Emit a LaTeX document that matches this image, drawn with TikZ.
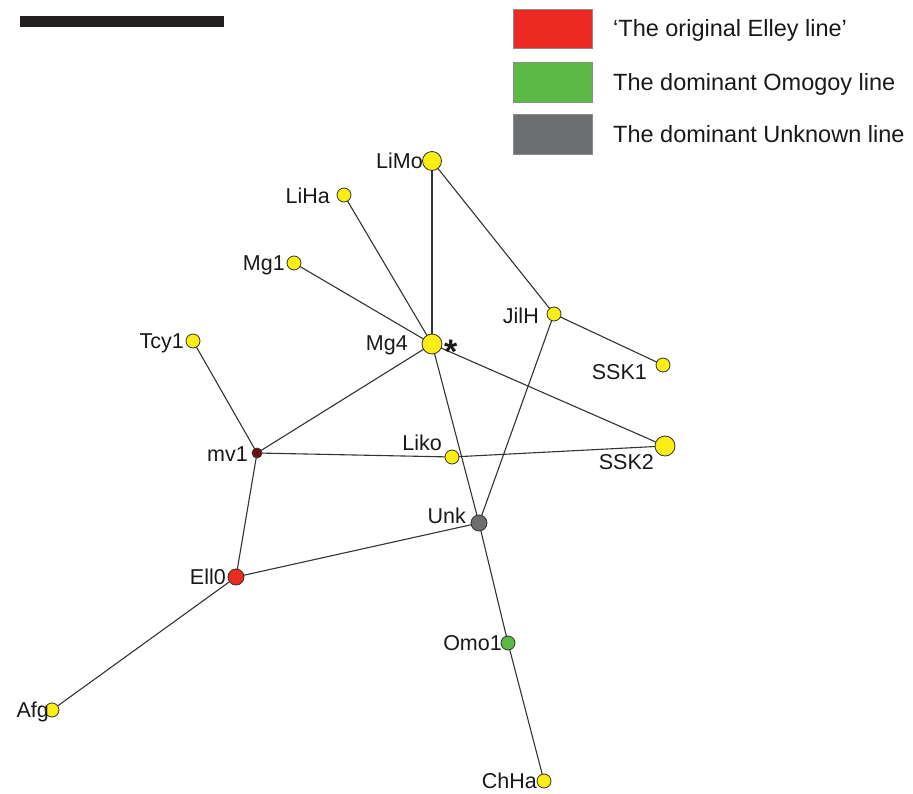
\documentclass[tikz,border=0pt]{standalone}
\usepackage{fontspec}
\setmainfont{Liberation Sans}
\definecolor{nyel}{HTML}{FAEE14}
\definecolor{nred}{HTML}{EC2A24}
\definecolor{ngreen}{HTML}{5CB946}
\definecolor{ngrey}{HTML}{6D6E70}
\definecolor{ndark}{HTML}{6B0E0E}
\definecolor{edgec}{HTML}{333333}
\begin{document}
\begin{tikzpicture}[x=1pt,y=-1pt,
  nd/.style={circle,draw=edgec,line width=0.8pt,inner sep=0pt,minimum size=#1},
  nd/.default=14pt,
  lab/.style={anchor=east,inner sep=0pt,text height=15.4pt,text depth=0pt,font=\fontsize{21.5}{24}\selectfont,text=black!90},
  leg/.style={anchor=west,inner sep=0pt,text height=16.8pt,text depth=0pt,font=\fontsize{23.5}{26}\selectfont,text=black!90},
  legbox/.style={draw=black!45,line width=0.6pt},
  ed/.style={draw=edgec,line width=1.1pt}]
\useasboundingbox (0,0) rectangle (913,794);
% scale bar
\fill[fill={rgb,255:red,35;green,31;blue,32}] (20,16) rectangle (224,27);
% legend
\filldraw[legbox,fill=nred] (513,9) rectangle (592,48);
\filldraw[legbox,fill=ngreen] (513,62) rectangle (592,102);
\filldraw[legbox,fill=ngrey] (513,114) rectangle (592,154);
\node[leg] (t1) at (613,28.5) {‘The original Elley line’};
\node[leg] (t2) at (613,82) {The dominant Omogoy line};
\node[leg] (t3) at (613,134) {The dominant Unknown line};
% nodes
\coordinate (LiMo) at (432,161);
\coordinate (LiHa) at (344,195);
\coordinate (Mg1) at (294,263);
\coordinate (Mg4) at (432,344);
\coordinate (JilH) at (554,314);
\coordinate (SSK1) at (663,365);
\coordinate (Tcy1) at (193,341);
\coordinate (mv1) at (257,453);
\coordinate (Liko) at (452,457);
\coordinate (SSK2) at (665,446);
\coordinate (Unk) at (479,523);
\coordinate (Ell0) at (236,577);
\coordinate (Omo1) at (508,643);
\coordinate (ChHa) at (544,781);
\coordinate (Afg) at (52,710);
% edges
\draw[ed] (LiMo) -- (Mg4);
\draw[ed] (LiMo) -- (JilH);
\draw[ed] (LiHa) -- (Mg4);
\draw[ed] (Mg1) -- (Mg4);
\draw[ed] (Mg4) -- (mv1);
\draw[ed] (Mg4) -- (SSK2);
\draw[ed] (Mg4) -- (Unk);
\draw[ed] (Tcy1) -- (mv1);
\draw[ed] (mv1) -- (Liko);
\draw[ed] (Liko) -- (SSK2);
\draw[ed] (JilH) -- (SSK1);
\draw[ed] (JilH) -- (Unk);
\draw[ed] (mv1) -- (Ell0);
\draw[ed] (Ell0) -- (Unk);
\draw[ed] (Ell0) -- (Afg);
\draw[ed] (Unk) -- (Omo1);
\draw[ed] (Omo1) -- (ChHa);
% circles
\node[nd=19pt,fill=nyel] (cLiMo) at (LiMo) {};
\node[nd,fill=nyel] (cLiHa) at (LiHa) {};
\node[nd,fill=nyel] (cMg1) at (Mg1) {};
\node[nd=20pt,fill=nyel] (cMg4) at (Mg4) {};
\node[nd,fill=nyel] (cJilH) at (JilH) {};
\node[nd,fill=nyel] (cSSK1) at (SSK1) {};
\node[nd,fill=nyel] (cTcy1) at (Tcy1) {};
\node[nd=10pt,fill=ndark] (cmv1) at (mv1) {};
\node[nd,fill=nyel] (cLiko) at (Liko) {};
\node[nd=20pt,fill=nyel] (cSSK2) at (SSK2) {};
\node[nd=16pt,fill=ngrey] (cUnk) at (Unk) {};
\node[nd=16pt,fill=nred] (cEll0) at (Ell0) {};
\node[nd,fill=ngreen] (cOmo1) at (Omo1) {};
\node[nd,fill=nyel] (cChHa) at (ChHa) {};
\node[nd,fill=nyel] (cAfg) at (Afg) {};
% labels
\node[lab] (lLiMo) at (423,161) {LiMo};
\node[lab] (lLiHa) at (330,196) {LiHa};
\node[lab] (lMg1) at (285,263) {Mg1};
\node[lab] (lMg4) at (408,343) {Mg4};
\node[anchor=base west,inner sep=0pt,font=\fontsize{34}{36}\selectfont\bfseries,text=black!90] (lstar) at (444,363) {*};
\node[lab] (lJilH) at (539,316) {JilH};
\node[lab] (lSSK1) at (647,372) {SSK1};
\node[lab] (lTcy1) at (184,341) {Tcy1};
\node[lab] (lmv1) at (248,454) {mv1};
\node[lab] (lLiko) at (442,443) {Liko};
\node[lab] (lSSK2) at (654,462) {SSK2};
\node[lab] (lUnk) at (466,516) {Unk};
\node[lab] (lEll0) at (226,577) {Ell0};
\node[lab] (lOmo1) at (502,643) {Omo1};
\node[lab] (lChHa) at (537,781) {ChHa};
\node[lab] (lAfg) at (49,710) {Afg};
\end{tikzpicture}
\end{document}
